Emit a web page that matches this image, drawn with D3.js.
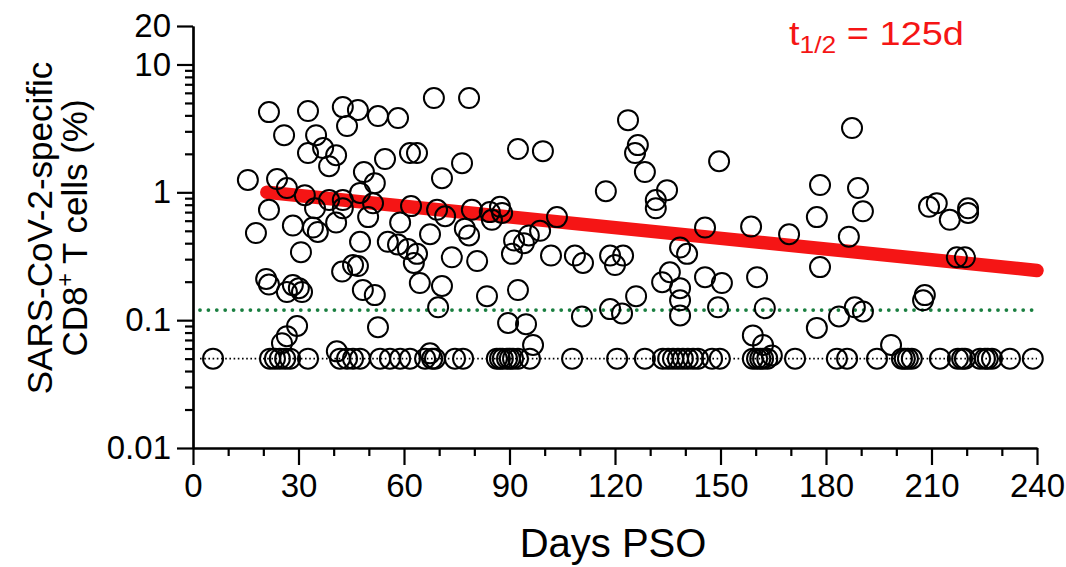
<!DOCTYPE html>
<html>
<head>
<meta charset="utf-8">
<script src="https://cdn.jsdelivr.net/npm/d3@7"></script>
<style>
  body { margin: 0; background: #fff; }
  text { font-family: "Liberation Sans", Arial, sans-serif; }
</style>
</head>
<body>
<script>
var w = 1066;
var h = 567;

// days post symptom onset and % SARS-CoV-2-specific CD8+ T cells (paired)
var days = [
  21.6, 32.7, 42.6, 46.9, 52.6, 58.3, 25.9, 43.8, 35.0, 37.0, 32.7, 40.7, 38.7, 54.6, 61.7, 63.7,
  15.6, 23.9, 26.7, 48.6, 51.7, 31.8, 21.6, 34.7, 38.7, 42.6, 42.6, 47.5, 51.2, 49.8, 40.7, 34.1,
  28.4, 35.5, 17.9, 58.9, 62.0, 47.5, 30.7, 42.4, 45.5, 46.9, 48.3, 51.7, 20.8, 21.6, 26.7, 28.4,
  30.1, 31.0, 29.6, 26.7, 25.3, 52.6, 40.9, 55.4, 58.3, 61.1, 63.7, 62.8, 68.5, 78.5, 76.5, 70.8,
  92.4, 99.5, 123.7, 117.4, 69.4, 71.7, 79.3, 84.4, 87.3, 87.9, 85.0, 103.5, 67.4, 77.3, 78.5, 91.3,
  90.7, 94.1, 95.5, 98.7, 73.6, 80.8, 101.8, 108.6, 110.9, 118.6, 120.0, 122.3, 64.5, 70.8, 83.6, 92.4,
  69.7, 89.6, 94.7, 110.6, 118.6, 122.0, 96.7, 67.4, 126.0, 126.5, 125.7, 128.5, 134.8, 131.6, 131.6, 149.6,
  178.3, 177.4, 187.4, 189.1, 145.6, 158.7, 169.5, 186.5, 138.5, 140.5, 135.6, 133.4, 138.5, 138.5, 138.5, 145.6,
  150.4, 160.4, 149.3, 162.6, 178.3, 177.4, 183.7, 159.2, 162.1, 164.6, 190.5, 209.3, 211.5, 215.2, 220.4, 220.4,
  217.2, 219.5, 208.1, 207.6, 188.2, 190.5, 198.5
];
var pct = [
  4.24, 4.32, 4.64, 4.40, 3.95, 3.81, 2.80, 3.30, 2.80, 2.22, 2.03, 1.95, 1.60, 1.82, 2.03, 2.03,
  1.25, 1.27, 1.08, 1.44, 1.18, 0.95, 0.73, 0.75, 0.87, 0.87, 0.75, 0.99, 0.82, 0.64, 0.58, 0.53,
  0.55, 0.49, 0.48, 0.58, 0.78, 0.41, 0.34, 0.24, 0.27, 0.265, 0.172, 0.157, 0.21, 0.19, 0.166, 0.188,
  0.178, 0.166, 0.090, 0.075, 0.066, 0.088, 0.057, 0.41, 0.39, 0.36, 0.33, 0.28, 5.46, 5.46, 1.69, 1.29,
  2.18, 2.10, 3.67, 1.02, 0.73, 0.65, 0.73, 0.70, 0.77, 0.69, 0.61, 0.64, 0.47, 0.52, 0.46, 0.42,
  0.33, 0.40, 0.46, 0.50, 0.31, 0.29, 0.32, 0.32, 0.28, 0.32, 0.27, 0.32, 0.195, 0.185, 0.154, 0.172,
  0.126, 0.095, 0.093, 0.107, 0.122, 0.113, 0.064, 0.055, 0.154, 2.34, 2.03, 1.44, 1.04, 0.87, 0.75, 1.75,
  1.14, 0.64, 3.18, 1.08, 0.53, 0.54, 0.47, 0.45, 0.37, 0.33, 0.237, 0.198, 0.178, 0.143, 0.109, 0.217,
  0.195, 0.217, 0.126, 0.124, 0.26, 0.087, 0.107, 0.076, 0.064, 0.053, 0.71, 0.77, 0.82, 0.61, 0.75, 0.69,
  0.31, 0.31, 0.157, 0.143, 0.126, 0.117, 0.064
];
// samples below the limit of detection, plotted at 0.05
var lodDays = [
  5.7, 21.9, 23.3, 24.7, 26.2, 27.6, 32.7, 41.8, 43.8, 45.5, 47.5, 53.2, 56.0, 58.9, 61.7, 66.0,
  68.0, 68.8, 74.5, 76.8, 86.4, 87.3, 88.1, 89.3, 90.1, 91.0, 92.4, 95.8, 107.8, 120.6, 128.5, 133.6,
  135.1, 136.5, 137.9, 139.3, 140.7, 142.2, 143.6, 147.6, 149.8, 159.2, 160.4, 161.3, 162.1, 163.3, 171.2, 183.1,
  186.0, 194.5, 201.6, 202.4, 203.3, 204.4, 212.4, 217.5, 218.7, 219.5, 223.8, 225.2, 226.0, 227.2, 232.3, 238.8
];
var lodValue = 0.05;
var positivityCutoff = 0.12;

// fitted decay line, t1/2 = 125d
var fitDays = [21, 240];
var fitPct = [1.0, 0.245];

var xTicks = [0, 30, 60, 90, 120, 150, 180, 210, 240];
var xMinor = [10, 20, 40, 50, 70, 80, 100, 110, 130, 140, 160, 170, 190, 200, 220, 230];
var yTicks = [0.01, 0.1, 1, 10, 20];
var yTickLabels = ["0.01", "0.1", "1", "10", "20"];
var yMinor = [0.02, 0.03, 0.04, 0.05, 0.06, 0.07, 0.08, 0.09,
              0.2, 0.3, 0.4, 0.5, 0.6, 0.7, 0.8, 0.9,
              2, 3, 4, 5, 6, 7, 8, 9];

var svg = d3.select("body").append("svg")
    .attr("width", w)
    .attr("height", h);

var x = d3.scaleLinear().domain([0, 240]).range([193, 1037]);
var y = d3.scaleLog().domain([0.01, 20]).range([448, 26]);

// reference lines
svg.append("line")
    .attr("x1", 200).attr("x2", x(240))
    .attr("y1", y(positivityCutoff)).attr("y2", y(positivityCutoff))
    .attr("stroke", "#1a7f40")
    .attr("stroke-width", 3.8)
    .attr("stroke-linecap", "round")
    .attr("stroke-dasharray", "0,8.4");

svg.append("line")
    .attr("x1", 200).attr("x2", x(240))
    .attr("y1", y(lodValue)).attr("y2", y(lodValue))
    .attr("stroke", "#000")
    .attr("stroke-width", 1.6)
    .attr("stroke-dasharray", "1.6,2.6");

// fit
svg.append("line")
    .attr("x1", x(fitDays[0])).attr("y1", y(fitPct[0]))
    .attr("x2", x(fitDays[1])).attr("y2", y(fitPct[1]))
    .attr("stroke", "#f51515")
    .attr("stroke-width", 13.5)
    .attr("stroke-linecap", "round");

// points
var pts = days.map(function (d, i) { return [d, pct[i]]; })
    .concat(lodDays.map(function (d) { return [d, lodValue]; }));

svg.append("g").selectAll("circle")
    .data(pts)
    .enter().append("circle")
    .attr("cx", function (d) { return x(d[0]); })
    .attr("cy", function (d) { return y(d[1]); })
    .attr("r", 10)
    .attr("fill", "none")
    .attr("stroke", "#000")
    .attr("stroke-width", 2);

// axes
svg.append("g")
    .attr("transform", "translate(0," + y(0.01) + ")")
    .call(d3.axisBottom(x).tickValues(xTicks).tickSize(17).tickPadding(9).tickSizeOuter(0));
svg.append("g")
    .attr("transform", "translate(0," + y(0.01) + ")")
    .call(d3.axisBottom(x).tickValues(xMinor).tickSize(8).tickFormat("").tickSizeOuter(0));

svg.append("g")
    .attr("transform", "translate(" + x(0) + ",0)")
    .call(d3.axisLeft(y).tickValues(yTicks).tickSize(16).tickPadding(6).tickSizeOuter(0)
        .tickFormat(function (d, i) { return yTickLabels[i]; }));
svg.append("g")
    .attr("transform", "translate(" + x(0) + ",0)")
    .call(d3.axisLeft(y).tickValues(yMinor).tickSize(8).tickFormat("").tickSizeOuter(0));

svg.selectAll(".domain").attr("stroke-width", 2.2);
svg.selectAll(".tick line").attr("stroke-width", 2.2);
svg.selectAll(".tick text")
    .attr("font-family", "Liberation Sans, Arial, sans-serif")
    .attr("font-size", 33)
    .attr("fill", "#000");

// axis titles
svg.append("text")
    .text("Days PSO")
    .attr("x", 613)
    .attr("y", 557)
    .attr("text-anchor", "middle")
    .attr("font-size", 40)
    .attr("fill", "#000");

var yt = svg.append("text")
    .attr("transform", "translate(52,228) rotate(-90)")
    .attr("text-anchor", "middle")
    .attr("font-size", 35)
    .attr("fill", "#000");
yt.append("tspan").attr("x", 0).attr("dy", 0).text("SARS-CoV-2-specific");
var l2 = yt.append("tspan").attr("x", 0).attr("dy", 35);
l2.append("tspan").text("CD8");
l2.append("tspan").attr("dy", -14).attr("font-size", 23).text("+");
l2.append("tspan").attr("dy", 14).text(" T cells (%)");

// half-life annotation
var ann = svg.append("text")
    .attr("transform", "translate(789,45) scale(1.15,1)")
    .attr("font-size", 33)
    .attr("fill", "#f51515");
ann.append("tspan").text("t");
ann.append("tspan").attr("dy", 8).attr("font-size", 23).text("1/2");
ann.append("tspan").attr("dy", -8).text(" = 125d");
</script>
</body>
</html>
